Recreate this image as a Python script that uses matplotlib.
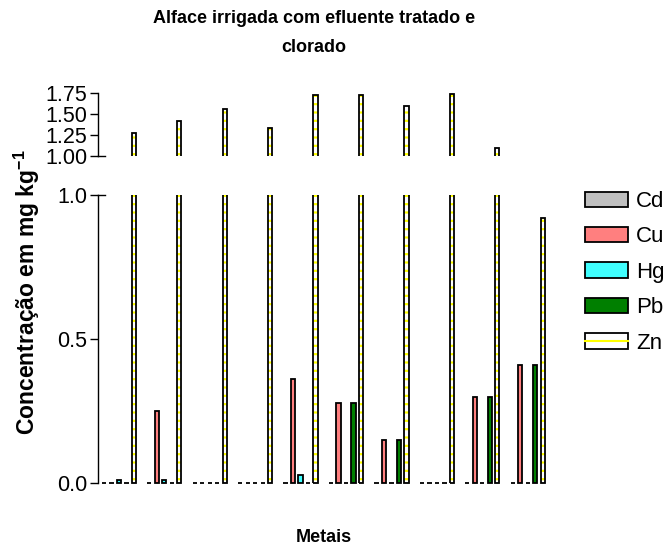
import matplotlib
matplotlib.use("Agg")
import matplotlib.pyplot as plt
import numpy as np
from matplotlib.patches import Patch
from matplotlib.lines import Line2D

plt.rcParams['font.family'] = ['Liberation Sans', 'DejaVu Sans']
plt.rcParams['mathtext.fontset'] = 'custom'
plt.rcParams['mathtext.rm'] = 'Liberation Sans'
plt.rcParams['mathtext.bf'] = 'Liberation Sans:bold'
plt.rcParams['hatch.linewidth'] = 1.6

# Concentrations (mg/kg) of each metal across the ten samples
metals = ['Cd', 'Cu', 'Hg', 'Pb', 'Zn']
cd = [0, 0, 0, 0, 0, 0, 0, 0, 0, 0]
cu = [0, 0.25, 0, 0, 0.36, 0.28, 0.15, 0, 0.30, 0.41]
hg = [0.01, 0.01, 0, 0, 0.03, 0, 0, 0, 0, 0]
pb = [0, 0, 0, 0, 0, 0.28, 0.15, 0, 0.30, 0.41]
zn = [1.27, 1.42, 1.56, 1.33, 1.73, 1.72, 1.59, 1.74, 1.10, 0.92]

colors = {'Cd': '#bfbfbf', 'Cu': '#ff7f7f', 'Hg': '#40ffff', 'Pb': '#007f00'}
series = {'Cd': cd, 'Cu': cu, 'Hg': hg, 'Pb': pb}

W, H = 665, 549
fig = plt.figure(figsize=(W / 100, H / 100), dpi=100)

def ax_rect(left, right, top, bottom):
    return [left / W, 1 - bottom / H, (right - left) / W, (bottom - top) / H]

ax_lo = fig.add_axes(ax_rect(98, 555, 195, 485))
ax_hi = fig.add_axes(ax_rect(98, 555, 92, 156))

n = len(zn)
x = np.arange(n)
slot = 0.165
bw = 0.095
lw = 1.3
xlim = (-0.46, 9.6)

for ax in (ax_lo, ax_hi):
    for i, m in enumerate(metals[:4]):
        ax.bar(x + (i - 2) * slot, series[m], bw, color=colors[m],
               edgecolor='black', linewidth=lw)
    xz = x + 2 * slot
    ax.bar(xz, zn, bw, color='white', edgecolor='#ffff00', hatch='--', linewidth=0)
    ax.bar(xz, zn, bw, fill=False, edgecolor='black', linewidth=lw)
    ax.set_xlim(*xlim)
    for s in ('top', 'right', 'bottom'):
        ax.spines[s].set_visible(False)
    ax.spines['left'].set_linewidth(1.0)
    ax.set_xticks([])
    ax.tick_params(axis='y', length=6, width=1.0, labelsize=15.5, pad=1.5)

ax_lo.set_ylim(-0.006, 1.0)
ax_lo.spines['left'].set_bounds(0, 1.0)
ax_lo.set_yticks([0.0, 0.5, 1.0])
ax_lo.set_yticklabels(['0.0', '0.5', '1.0'])

ax_hi.set_ylim(1.0, 1.76)
ax_hi.spines['left'].set_bounds(1.0, 1.75)
ax_hi.set_yticks([1.00, 1.25, 1.50, 1.75])
ax_hi.set_yticklabels(['1.00', '1.25', '1.50', '1.75'])

# short caps on the inner ends of the broken axis
for ax, yv in ((ax_lo, 1.0), (ax_hi, 1.0)):
    ax.plot([0, 0.016], [yv, yv], color='black', lw=1.0,
            transform=ax.get_yaxis_transform(), clip_on=False)

fig.text(314 / W, 1 - 10 / H, 'Alface irrigada com efluente tratado e\nclorado',
         ha='center', va='top', fontsize=13, fontweight='bold', linespacing=1.9)
fig.text(27 / W, 1 - 292 / H, r'Concentração em mg kg$^{\mathbf{-1}}$',
         rotation=90, ha='center', va='center', fontsize=16.5, fontweight='bold')
fig.text(324 / W, 1 - 537 / H, 'Metais', ha='center', va='center',
         fontsize=13, fontweight='bold')

handles = [Patch(facecolor=colors[m], edgecolor='black', linewidth=1.3) for m in metals[:4]]
handles.append((Patch(facecolor='white', edgecolor='black', linewidth=1.3),
                Line2D([], [], color='#ffff00', lw=1.5)))
fig.legend(handles, metals, loc='upper left', bbox_to_anchor=(585 / W, 1 - 191 / H),
           frameon=False, fontsize=16, borderpad=0, borderaxespad=0,
           handlelength=1.94, handleheight=0.68, handletextpad=0.36,
           labelspacing=0.65)

fig.savefig('out.png', dpi=100)
